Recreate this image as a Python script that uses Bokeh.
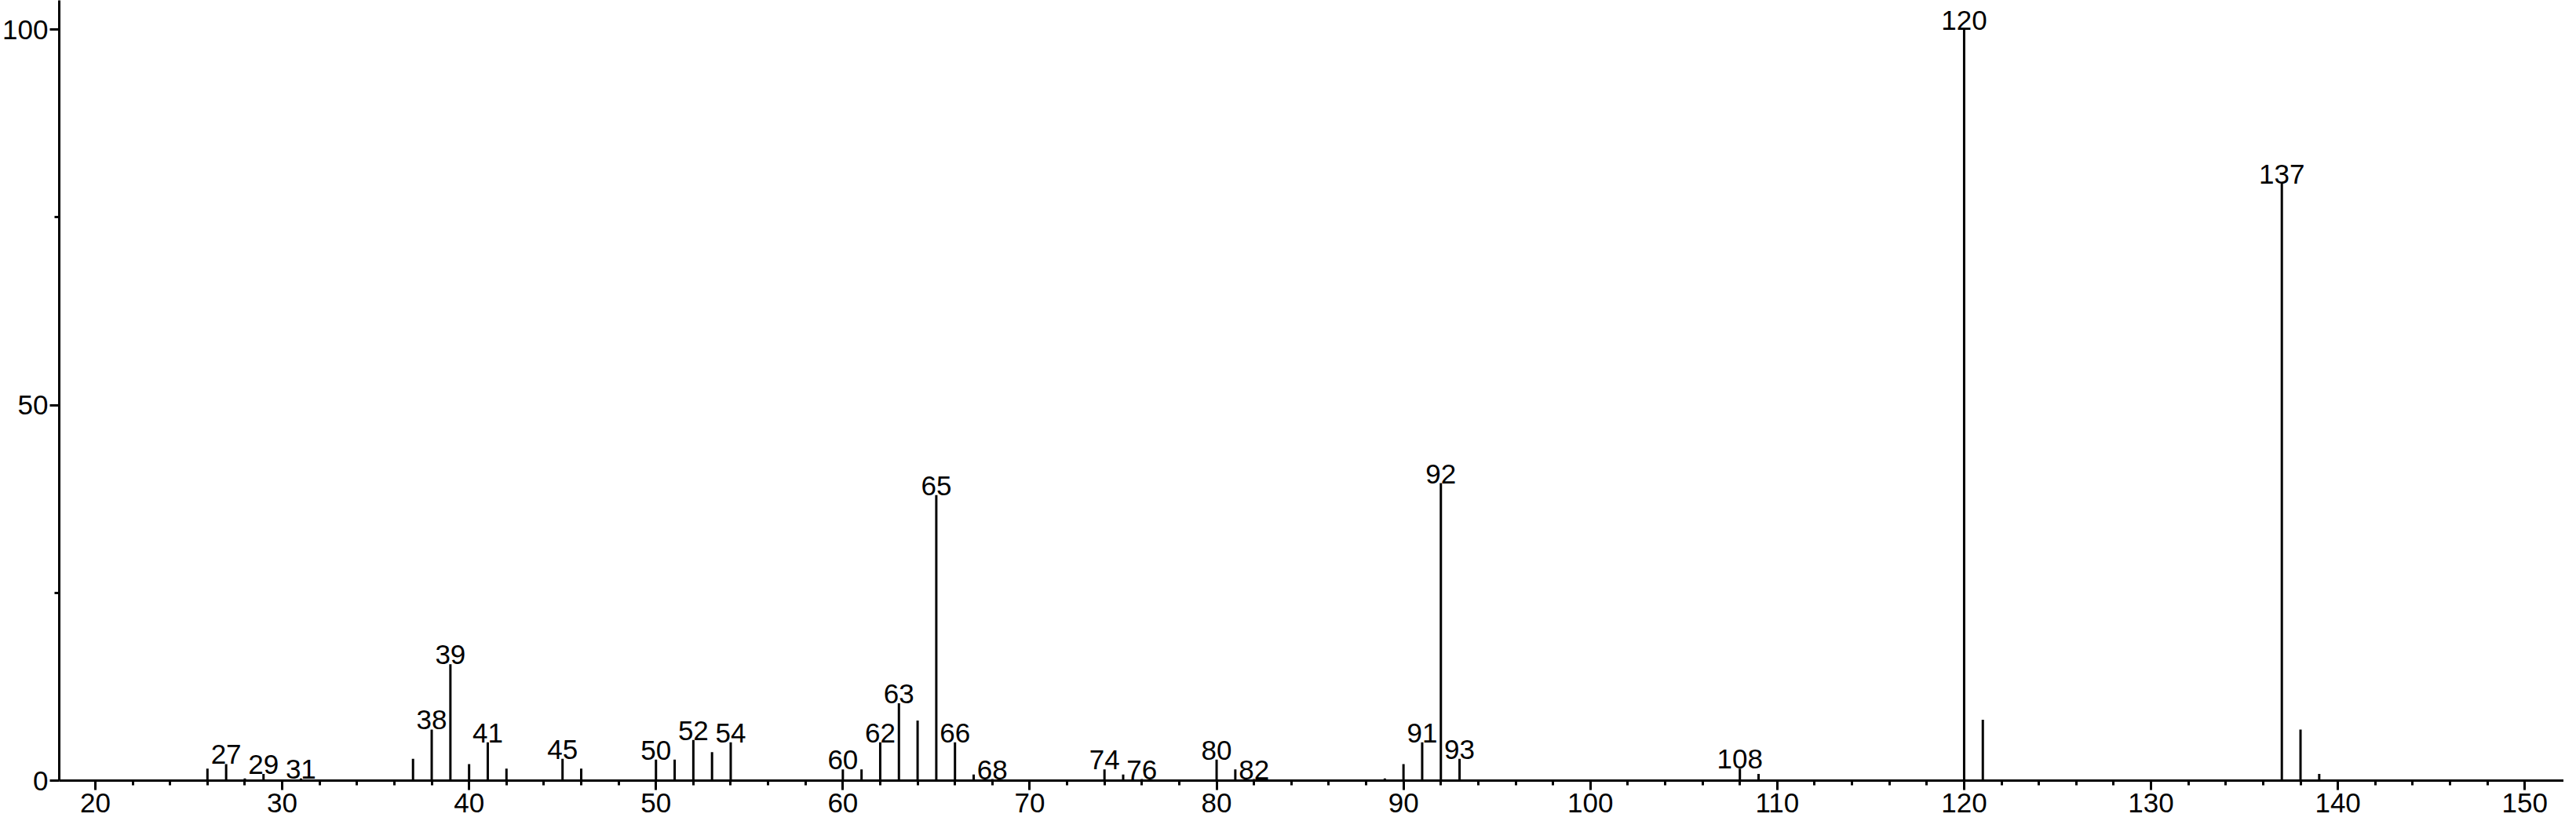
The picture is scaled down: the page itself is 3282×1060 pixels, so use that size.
from bokeh.plotting import figure
from bokeh.models import FixedTicker, ColumnDataSource, Range1d
from bokeh.core.properties import value
from bokeh.embed import file_html
from bokeh.resources import INLINE

# m/z values and relative intensities (%)
mz = [26, 27, 28, 29, 31, 37, 38, 39, 40, 41, 42, 45, 46, 50, 51, 52, 53, 54,
      60, 61, 62, 63, 64, 65, 66, 67, 68, 74, 75, 76, 80, 81, 82, 89, 90, 91,
      92, 93, 108, 109, 120, 121, 137, 138, 139]
intensity = [1.6, 2.2, 0.3, 0.9, 0.3, 2.9, 6.8, 15.5, 2.2, 5.1, 1.6, 2.9, 1.6,
             2.8, 2.8, 5.4, 3.8, 5.1, 1.5, 1.5, 5.1, 10.3, 8.0, 38.0, 5.1, 0.8,
             0.2, 1.5, 0.8, 0.2, 2.8, 1.5, 0.2, 0.3, 2.2, 5.1, 39.6, 2.9, 1.6,
             0.9, 100.0, 8.1, 79.5, 6.8, 0.9]

# peaks that carry a label
labeled_mz = [27, 29, 31, 38, 39, 41, 45, 50, 52, 54, 60, 62, 63, 65, 66, 68,
              74, 76, 80, 82, 91, 92, 93, 108, 120, 137]

x_major_ticks = [20, 30, 40, 50, 60, 70, 80, 90, 100, 110, 120, 130, 140, 150]
x_minor_ticks = [v for v in range(22, 150, 2) if v % 10 != 0]
y_major_ticks = [0, 50, 100]
y_minor_ticks = [25, 75]

FONT = "Liberation Sans"
FS = "35px"

p = figure(width=3266, height=1044, output_backend="svg", toolbar_location=None,
           x_range=Range1d(18.07, 152.09), y_range=Range1d(0, 103.87),
           min_border_left=0, min_border_right=0, min_border_top=0,
           min_border_bottom=50)
p.outline_line_color = None
p.xgrid.visible = False
p.ygrid.visible = False
p.background_fill_color = "white"
p.border_fill_color = "white"

bars = ColumnDataSource(dict(x=mz, y0=[0] * len(mz), y1=intensity))
p.segment(x0="x", y0="y0", x1="x", y1="y1", source=bars,
          line_color="black", line_width=3)

lookup = dict(zip(mz, intensity))
labels = ColumnDataSource(dict(x=labeled_mz,
                               y=[lookup[m] for m in labeled_mz],
                               t=[str(m) for m in labeled_mz]))
p.text(x="x", y="y", text="t", source=labels, text_align="center",
       text_baseline="alphabetic", y_offset=-12, text_color="black",
       text_font=value(FONT), text_font_size=FS)

for ax in (p.xaxis[0], p.yaxis[0]):
    ax.axis_line_width = 3
    ax.axis_line_color = "black"
    ax.major_tick_line_width = 3
    ax.minor_tick_line_width = 3
    ax.major_tick_in = 0
    ax.minor_tick_in = 0
    ax.major_tick_out = 12
    ax.minor_tick_out = 6
    ax.major_label_text_font = FONT
    ax.major_label_text_font_size = FS
    ax.major_label_text_color = "black"

p.xaxis[0].ticker = FixedTicker(ticks=x_major_ticks, minor_ticks=x_minor_ticks)
p.yaxis[0].ticker = FixedTicker(ticks=y_major_ticks, minor_ticks=y_minor_ticks)
p.xaxis[0].major_label_standoff = 4
p.yaxis[0].major_label_standoff = 2

open("out.html", "w").write(file_html(p, INLINE))
